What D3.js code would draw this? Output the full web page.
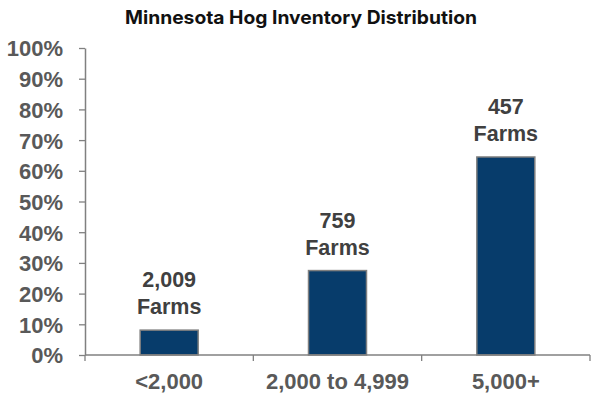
<!DOCTYPE html>
<html>
<head>
<meta charset="utf-8">
<script src="https://cdn.jsdelivr.net/npm/d3@7"></script>
<style>
  body { margin: 0; background: #fff; }
</style>
</head>
<body>
<svg id="chart" width="600" height="402"></svg>
<script>
const svg = d3.select('#chart');

// Data
const categories = ['<2,000', '2,000 to 4,999', '5,000+'];
const shares = [0.081, 0.275, 0.645];
const farmCounts = ['2,009', '759', '457'];
const yTicks = [0, 0.1, 0.2, 0.3, 0.4, 0.5, 0.6, 0.7, 0.8, 0.9, 1.0];

const margin = {top: 48, left: 85, right: 10, bottom: 47};
const innerW = 590 - margin.left;
const innerH = 355 - margin.top;
const labelFont = 'Liberation Sans, Arial, sans-serif';

const x = d3.scaleBand()
    .domain(categories)
    .range([0, innerW])
    .paddingInner(0)
    .paddingOuter(0);

const y = d3.scaleLinear()
    .domain([0, 1])
    .range([innerH, 0]);

const g = svg.append('g')
    .attr('transform', `translate(${margin.left},${margin.top})`);

// title
svg.append('text')
    .attr('x', 301)
    .attr('y', 24)
    .attr('text-anchor', 'middle')
    .attr('font-family', 'Inter, sans-serif')
    .attr('font-weight', 'bold')
    .attr('font-size', '18.5px')
    .attr('textLength', 352)
    .attr('lengthAdjust', 'spacingAndGlyphs')
    .attr('fill', '#111')
    .text('Minnesota Hog Inventory Distribution');

// y axis
const yAxis = d3.axisLeft(y)
    .tickValues(yTicks)
    .tickFormat(d3.format('.0%'))
    .tickSize(6)
    .tickSizeOuter(0)
    .tickPadding(16);

const yAxisG = g.append('g').call(yAxis);
yAxisG.select('.domain').attr('stroke', '#808080').attr('stroke-width', 1.5);
yAxisG.selectAll('.tick line').attr('stroke', '#808080').attr('stroke-width', 1.3);
yAxisG.selectAll('.tick text')
    .attr('font-family', labelFont)
    .attr('font-weight', 'bold')
    .attr('font-size', '22px')
    .attr('fill', '#595959')
    .attr('dy', '0.36em');

// bars
const barW = 58;
g.selectAll('rect.bar').data(categories)
  .enter().append('rect')
    .attr('class', 'bar')
    .attr('x', (d) => x(d) + x.bandwidth() / 2 - barW / 2)
    .attr('y', (d, i) => y(shares[i]))
    .attr('width', barW)
    .attr('height', (d, i) => innerH - y(shares[i]))
    .attr('fill', '#073c6b')
    .attr('stroke', '#7f7f7f')
    .attr('stroke-width', 1.5);

// x axis with boundary ticks
const xAxisG = g.append('g')
    .attr('transform', `translate(0,${innerH})`);
xAxisG.append('line')
    .attr('x1', 0).attr('x2', innerW)
    .attr('stroke', '#808080').attr('stroke-width', 1.5);
const bounds = categories.map((d) => x(d)).concat([innerW]);
xAxisG.selectAll('line.tick').data(bounds)
  .enter().append('line')
    .attr('class', 'tick')
    .attr('x1', (d) => d).attr('x2', (d) => d)
    .attr('y1', 0).attr('y2', 6)
    .attr('stroke', '#808080').attr('stroke-width', 1.3);
xAxisG.selectAll('text').data(categories)
  .enter().append('text')
    .attr('x', (d) => x(d) + x.bandwidth() / 2)
    .attr('y', 34)
    .attr('text-anchor', 'middle')
    .attr('font-family', labelFont)
    .attr('font-weight', 'bold')
    .attr('font-size', '22px')
    .attr('fill', '#595959')
    .text((d) => d);

// data labels
const labels = g.selectAll('text.lbl').data(categories)
  .enter().append('text')
    .attr('class', 'lbl')
    .attr('text-anchor', 'middle')
    .attr('font-family', labelFont)
    .attr('font-weight', 'bold')
    .attr('font-size', '21.5px')
    .attr('fill', '#404040');
labels.append('tspan')
    .attr('x', (d) => x(d) + x.bandwidth() / 2)
    .attr('y', (d, i) => y(shares[i]) - 43)
    .text((d, i) => farmCounts[i]);
labels.append('tspan')
    .attr('x', (d) => x(d) + x.bandwidth() / 2)
    .attr('y', (d, i) => y(shares[i]) - 16)
    .text('Farms');
</script>
</body>
</html>
